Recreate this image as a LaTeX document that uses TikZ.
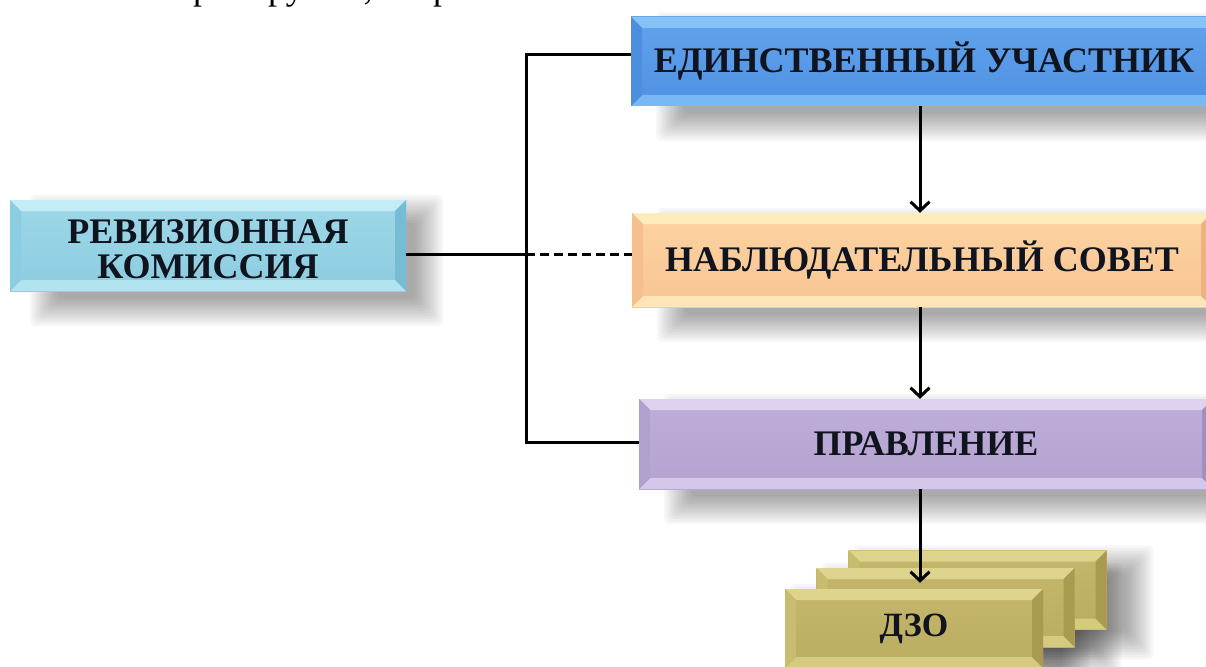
\documentclass[tikz,border=0pt]{standalone}
\usepackage{fontspec}
\setmainfont{Liberation Serif}
\usetikzlibrary{arrows.meta,calc}
\pgfdeclarelayer{bg}
\pgfdeclarelayer{paper}
\pgfsetlayers{paper,bg,main}

% colours
\definecolor{txt}{RGB}{15,20,30}
\definecolor{bluT}{RGB}{98,163,236}\definecolor{bluB}{RGB}{78,145,226}
\definecolor{bluTop}{RGB}{135,194,246}\definecolor{bluBot}{RGB}{120,184,244}
\definecolor{bluL}{RGB}{78,142,222}\definecolor{bluR}{RGB}{62,122,202}
\definecolor{orT}{RGB}{252,212,162}\definecolor{orB}{RGB}{248,196,146}
\definecolor{orTop}{RGB}{255,236,188}\definecolor{orBot}{RGB}{255,230,182}
\definecolor{orL}{RGB}{246,192,142}\definecolor{orR}{RGB}{236,178,128}
\definecolor{cyT}{RGB}{158,216,232}\definecolor{cyB}{RGB}{140,204,224}
\definecolor{cyTop}{RGB}{194,236,246}\definecolor{cyBot}{RGB}{178,228,240}
\definecolor{cyL}{RGB}{140,205,225}\definecolor{cyR}{RGB}{118,188,210}
\definecolor{puT}{RGB}{190,174,216}\definecolor{puB}{RGB}{180,162,208}
\definecolor{puTop}{RGB}{222,210,240}\definecolor{puBot}{RGB}{212,200,234}
\definecolor{puL}{RGB}{176,160,206}\definecolor{puR}{RGB}{160,144,194}
\definecolor{dzT}{RGB}{196,182,106}\definecolor{dzB}{RGB}{186,172,96}
\definecolor{dzTop}{RGB}{222,212,142}\definecolor{dzBot}{RGB}{212,202,128}
\definecolor{dzL}{RGB}{200,188,110}\definecolor{dzR}{RGB}{168,154,78}

\tikzset{
  bevelbox/.style n args={6}{inner sep=0pt, top color=#1, bottom color=#2,
    text=txt, font=\bfseries\fontsize{36}{36}\selectfont,
    path picture={
      \coordinate (pNW) at (path picture bounding box.north west);
      \coordinate (pSE) at (path picture bounding box.south east);
      \coordinate (pNE) at (pNW -| pSE);
      \coordinate (pSW) at (pNW |- pSE);
      \fill[#3] (pNW) -- (pNE) -- ($(pNE)+(-11pt,-11pt)$) -- ($(pNW)+(11pt,-11pt)$) -- cycle;
      \fill[#4] (pSW) -- (pSE) -- ($(pSE)+(-11pt,11pt)$) -- ($(pSW)+(11pt,11pt)$) -- cycle;
      \fill[#5] (pNW) -- (pSW) -- ($(pSW)+(11pt,11pt)$) -- ($(pNW)+(11pt,-11pt)$) -- cycle;
      \fill[#6] (pNE) -- (pSE) -- ($(pSE)+(-11pt,11pt)$) -- ($(pNE)+(-11pt,-11pt)$) -- cycle;
    }},
  bluebox/.style={bevelbox={bluT}{bluB}{bluTop}{bluBot}{bluL}{bluR}},
  orangebox/.style={bevelbox={orT}{orB}{orTop}{orBot}{orL}{orR}},
  cyanbox/.style={bevelbox={cyT}{cyB}{cyTop}{cyBot}{cyL}{cyR}},
  purplebox/.style={bevelbox={puT}{puB}{puTop}{puBot}{puL}{puR}},
  dzobox/.style={bevelbox={dzT}{dzB}{dzTop}{dzBot}{dzL}{dzR},
    minimum width=258pt, minimum height=79pt},
  ln/.style={line width=3pt, black},
  arr/.style={line width=3pt, black, -{Straight Barb[length=9pt,width=19pt]}},
  frag/.style={anchor=base, inner sep=0pt, font=\fontsize{36}{36}\selectfont}
}

% shadow: node, left inset, top inset, right extension, bottom extension
\newcommand\softshade[5]{%
  \begin{pgfonlayer}{bg}
  \foreach \k in {0,...,11}{
    \fill[black, opacity=0.032, rounded corners=6pt]
      ($(#1.north west)+({(#2-15+2.5*\k)*1pt},{(-(#3)+15-2.5*\k)*1pt})$)
      rectangle
      ($(#1.south east)+({(#4+15-2.5*\k)*1pt},{(-(#5)-15+2.5*\k)*1pt})$);
  }
  \end{pgfonlayer}}

\begin{document}
\begin{tikzpicture}[x=1pt, y=-1pt]
\begin{pgfonlayer}{paper}
\fill[white] (0,0) rectangle (1206,666);
\end{pgfonlayer}
\useasboundingbox (0,0) rectangle (1206,666);

% cut-off text line at the top
\node[frag] (f1) at (202,0) {р};
\node[frag] (f2) at (286,0) {ру};
\node[frag] (f3) at (368,0) {,};
\node[frag] (f4) at (442,0) {р};

% main boxes
\node[bluebox, minimum width=586pt, minimum height=89pt] (eu) at (924,61.5) {ЕДИНСТВЕННЫЙ УЧАСТНИК};
\node[orangebox, minimum width=580pt, minimum height=94pt] (ns) at (922,260) {НАБЛЮДАТЕЛЬНЫЙ СОВЕТ};
\node[purplebox, minimum width=574pt, minimum height=90pt] (pr) at (926,444) {ПРАВЛЕНИЕ};
\node[cyanbox, minimum width=396pt, minimum height=91pt, align=center,
      font=\bfseries\fontsize{36}{35}\selectfont] (rk) at (208,245.5)
      {\rule{0pt}{32pt}РЕВИЗИОННАЯ\\КОМИССИЯ};

% DZO stack
\node[dzobox] (dzo3) at (977.5,590) {};
\node[dzobox] (dzo2) at (945.5,607.5) {};
\node[dzobox, font=\bfseries\fontsize{34}{34}\selectfont] (dzo) at (914,628.5) {ДЗО};

% shadows
\softshade{eu}{40}{10}{10}{20}
\softshade{ns}{40}{10}{10}{20}
\softshade{pr}{40}{10}{10}{20}
\softshade{rk}{35}{10}{22}{20}
\softshade{dzo3}{20}{10}{32}{15}
\softshade{dzo2}{20}{10}{32}{15}
\softshade{dzo}{20}{10}{32}{15}

% bracket connectors
\coordinate (bx) at (526,0);
\coordinate (ax) at (920,0);
\coordinate (t1) at ([yshift=7pt]eu.west);
\coordinate (t2) at ([yshift=2pt]pr.west);
\coordinate (m1) at ([yshift=-8.5pt]rk.east);
\draw[ln] (t1) -- (t1 -| bx) -- (t2 -| bx) -- (t2);
\draw[ln] (m1) -- (m1 -| bx);
\draw[ln, dash pattern=on 9pt off 5pt] (m1 -| bx) -- (m1 -| ns.west);

% vertical arrows
\draw[arr] (eu.south -| ax) -- (ns.north -| ax);
\draw[arr] (ns.south -| ax) -- (pr.north -| ax);
\draw[arr] (pr.south -| ax) -- ([yshift=6pt]dzo.north -| ax);
\end{tikzpicture}
\end{document}
